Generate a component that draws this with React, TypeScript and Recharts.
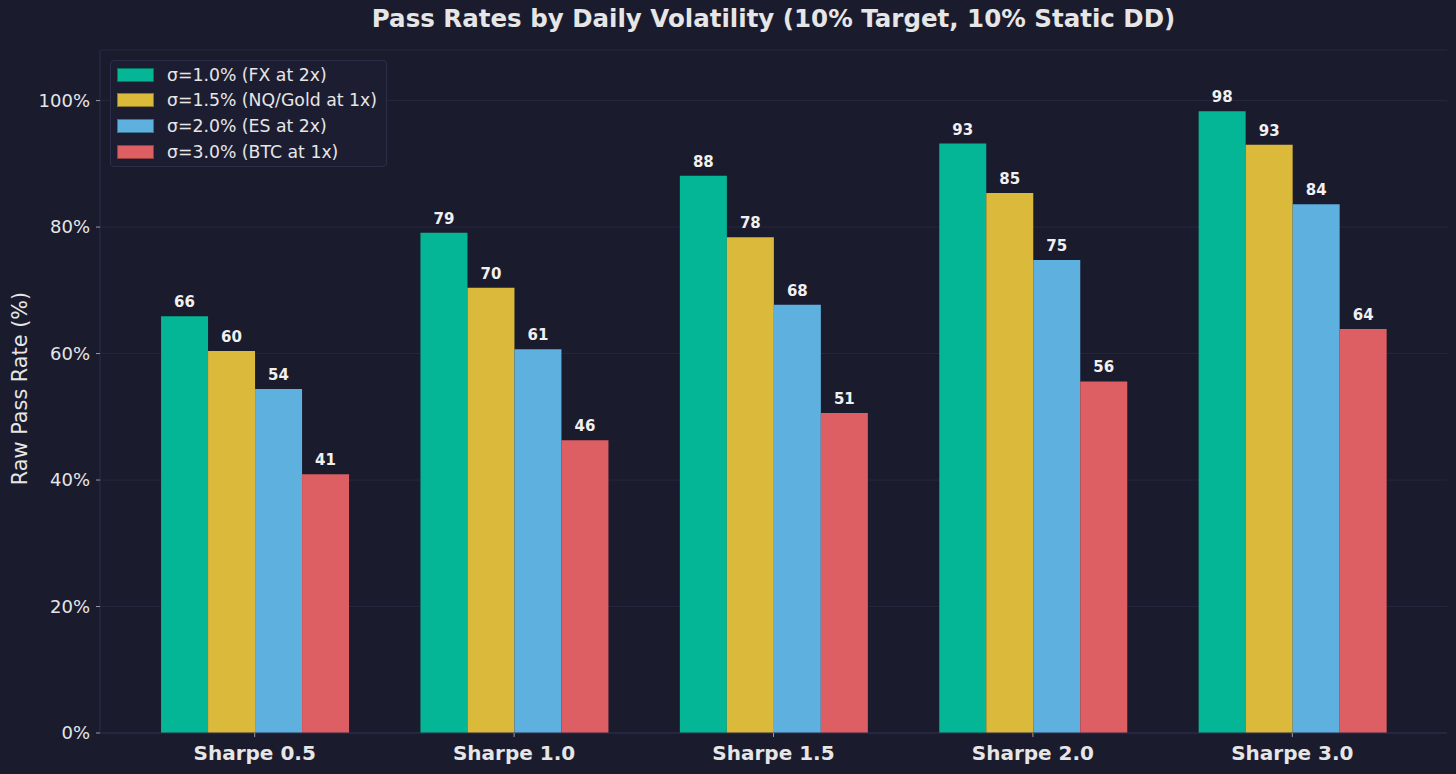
import React from 'react';
import { BarChart, Bar, XAxis, YAxis, CartesianGrid, LabelList } from 'recharts';

const categories = ['Sharpe 0.5', 'Sharpe 1.0', 'Sharpe 1.5', 'Sharpe 2.0', 'Sharpe 3.0'];
const fx2x = [65.9, 79.1, 88.1, 93.2, 98.3];
const nqGold1x = [60.4, 70.4, 78.4, 85.4, 93.0];
const es2x = [54.4, 60.7, 67.7, 74.8, 83.6];
const btc1x = [40.9, 46.3, 50.6, 55.6, 63.9];
const yTicks = [0, 20, 40, 60, 80, 100];

const SERIES = [
    { key: 'fx', label: 'σ=1.0% (FX at 2x)', color: '#05b696', values: fx2x },
    { key: 'nq', label: 'σ=1.5% (NQ/Gold at 1x)', color: '#dbba3b', values: nqGold1x },
    { key: 'es', label: 'σ=2.0% (ES at 2x)', color: '#5eb0de', values: es2x },
    { key: 'btc', label: 'σ=3.0% (BTC at 1x)', color: '#de5f63', values: btc1x },
];

const chartData = categories.map((name, i) => {
    const row: Record<string, any> = { name };
    SERIES.forEach(s => { row[s.key] = s.values[i]; });
    return row;
});

const FONT = '"DejaVu Sans", Verdana, sans-serif';
const BG = '#1b1b2e';
const FRAME = '#2d2d4a';
const TEXT = '#e6e6e6';

// plot area edges, used to centre the title over the axes
const PLOT_LEFT = 100;
const PLOT_RIGHT = 9;

const LegendBox: React.FC = () => (
    <div
        style={{
            position: 'absolute',
            left: 110,
            top: 60,
            background: '#1d1d32',
            border: `1px solid ${FRAME}`,
            borderRadius: 4,
            padding: '1px 9px 2px 6px',
            fontFamily: FONT,
            fontSize: 17.3,
            color: TEXT,
        }}
    >
        {SERIES.map(s => (
            <div key={s.key} style={{ display: 'flex', alignItems: 'center', height: 25.6 }}>
                <span
                    style={{
                        display: 'inline-block',
                        width: 35,
                        height: 12,
                        background: s.color,
                        border: '1px solid rgba(0,0,0,0.35)',
                        marginRight: 13,
                    }}
                />
                <span>{s.label}</span>
            </div>
        ))}
    </div>
);

const YLabel: React.FC<any> = ({ viewBox }) => {
    const cy = viewBox.y + viewBox.height / 2 - 3;
    return (
        <text
            x={20}
            y={cy}
            transform={`rotate(-90, 20, ${cy})`}
            textAnchor="middle"
            dominantBaseline="central"
            fill={TEXT}
            fontFamily={FONT}
            fontSize={20.8}
        >
            Raw Pass Rate (%)
        </text>
    );
};

const App: React.FC = () => {
    return (
        <div style={{ position: 'absolute', left: 0, top: 0, width: 1456, height: 774, background: BG }}>
            <BarChart
                width={1456}
                height={774}
                data={chartData}
                margin={{ top: 50, right: PLOT_RIGHT, left: 0, bottom: 0 }}
                barCategoryGap="13.9%"
                barGap={0}
                style={{ position: 'absolute', left: 0, top: 0 }}
            >
                <CartesianGrid vertical={false} stroke="#26263e" strokeWidth={1} />
                <XAxis
                    dataKey="name"
                    height={41}
                    padding={{ left: 25, right: 25 }}
                    stroke={FRAME}
                    tickSize={4}
                    tickLine={{ stroke: '#9a9aaa' }}
                    tick={{ fill: TEXT, fontFamily: FONT, fontWeight: 'bold', fontSize: 20 }}
                    tickMargin={9}
                />
                <XAxis
                    xAxisId="top"
                    orientation="top"
                    dataKey="name"
                    height={0}
                    tick={false}
                    tickLine={false}
                    stroke={FRAME}
                />
                <YAxis
                    width={PLOT_LEFT}
                    domain={[0, 108]}
                    ticks={yTicks}
                    allowDataOverflow
                    tickFormatter={(v: number) => `${v}%`}
                    stroke={FRAME}
                    tickSize={4}
                    tickLine={{ stroke: '#9a9aaa' }}
                    tick={{ fill: TEXT, fontFamily: FONT, fontSize: 18 }}
                    tickMargin={6}
                    label={<YLabel />}
                />
                <YAxis
                    yAxisId="right"
                    orientation="right"
                    width={0}
                    domain={[0, 108]}
                    tick={false}
                    tickLine={false}
                    stroke={FRAME}
                />
                {SERIES.map(s => (
                    <Bar
                        key={s.key}
                        dataKey={s.key}
                        name={s.label}
                        fill={s.color}
                        isAnimationActive={false}
                    >
                        <LabelList
                            dataKey={s.key}
                            position="top"
                            offset={9}
                            formatter={(v: any) => Math.round(Number(v)).toString()}
                            fill="#f0f0f0"
                            fontFamily={FONT}
                            fontWeight="bold"
                            fontSize={15}
                        />
                    </Bar>
                ))}
            </BarChart>
            <div
                style={{
                    position: 'absolute',
                    top: 4,
                    left: PLOT_LEFT,
                    width: 1456 - PLOT_LEFT - PLOT_RIGHT,
                    textAlign: 'center',
                    fontFamily: FONT,
                    fontWeight: 'bold',
                    fontSize: 24.5,
                    color: TEXT,
                }}
            >
                Pass Rates by Daily Volatility (10% Target, 10% Static DD)
            </div>
            <LegendBox />
        </div>
    );
};

export default App;
